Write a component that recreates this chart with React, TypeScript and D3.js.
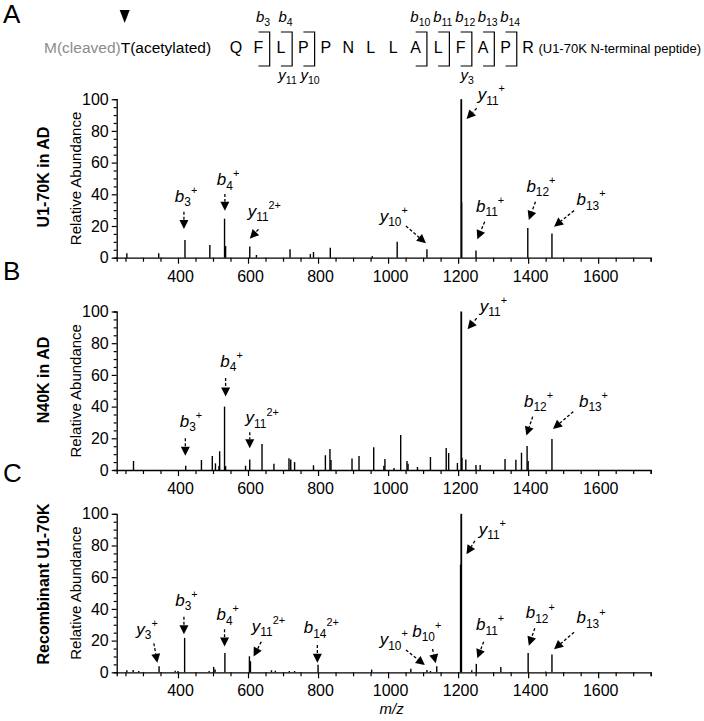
import * as d3 from "d3";
import React from "react";

const FONT = "'Liberation Sans', Arial, Helvetica, sans-serif";

// m/z axis + abundance axis
const mzDomain: [number, number] = [225, 1750];
const mzTicks = d3.range(250, 1751, 50);
const mzLabels = [400, 600, 800, 1000, 1200, 1400, 1600];
const abundanceTicks = d3.range(0, 101, 5);
const abundanceLabels = [0, 20, 40, 60, 80, 100];

// peptide header
const residues = ["Q", "F", "L", "P", "P", "N", "L", "L", "A", "L", "F", "A", "P", "R"];
// cut = position between two residues; each cut gets a "]" bracket
const bCuts: [number, string][] = [[1.5, "3"], [2.5, "4"], [8.5, "10"], [9.5, "11"], [10.5, "12"], [11.5, "13"], [12.5, "14"]];
const yCuts: [number, string][] = [[2.5, "11"], [3.5, "10"], [10.5, "3"]];
const cutsFirst = [1.5, 2.5, 3.5];
const cutsSecond = [8.5, 9.5, 10.5, 11.5, 12.5];

// peaks: [m/z, relative abundance]
const peaksAD: [number, number][] = [
  [254, 2.8], [345, 2.8], [420, 11.2], [491, 8], [533, 24.6], [536, 7.4], [605, 7], [624, 1.7],
  [720, 5.3], [778, 2.3], [787, 3.6], [835, 6.3], [955, 1], [1026, 10.1], [1111, 5.3],
  [1209, 100], [1210, 35], [1251, 4.6], [1399, 18.7], [1468, 15.2],
];

const peaksN40K: [number, number][] = [
  [273, 5.7], [422, 2.7], [467, 6.3], [498, 8.8], [507, 4.2], [517, 2.5], [519, 11.8], [533, 40],
  [536, 2.5], [593, 2.7], [605, 6.7], [640, 16.4], [674, 4], [717, 7.4], [722, 6.7], [733, 5],
  [787, 3], [821, 9.3], [834, 13.3], [837, 6.3], [897, 7.2], [917, 8.8], [959, 14.3], [988, 2.7],
  [991, 7], [1017, 1.3], [1036, 22.1], [1054, 5.7], [1057, 4], [1084, 1.9], [1121, 8.2],
  [1166, 13.9], [1173, 10.7], [1198, 4.4], [1209, 100], [1211, 7.8], [1222, 6.7], [1251, 3.2],
  [1263, 3.2], [1334, 7], [1365, 6.5], [1381, 10.9], [1397, 15.2], [1400, 5.7], [1468, 19.6],
];

const peaksRecombinant: [number, number][] = [
  [254, 1.3], [272, 1.5], [288, 0.8], [346, 3.8], [392, 1], [400, 0.8], [419, 21.7], [489, 0.8],
  [502, 3.4], [506, 1.7], [534, 12.2], [604, 10.1], [607, 7], [667, 1.3], [678, 1], [718, 0.8],
  [733, 0.8], [800, 4.8], [953, 1.7], [1065, 2.3], [1111, 1.5], [1121, 0.8], [1139, 3.8],
  [1207, 68], [1209, 100], [1239, 1.3], [1252, 5.3], [1322, 3.4], [1400, 12.2], [1450, 0.5],
  [1468, 11.2],
];

type Note = { ion: string; sub: string; sup: string; at: [number, number]; from: [number, number]; to: [number, number] };

const notesAD: Note[] = [
  { ion: "b", sub: "3", sup: "+", at: [391, 35.3], from: [417, 29], to: [417, 18.1] },
  { ion: "b", sub: "4", sup: "+", at: [511, 45.9], from: [534, 40.2], to: [534, 29.7] },
  { ion: "y", sub: "11", sup: "2+", at: [599, 25.9], from: [630, 17.9], to: [605, 12] },
  { ion: "y", sub: "10", sup: "+", at: [976, 22.7], from: [1051, 20], to: [1108, 9.1] },
  { ion: "y", sub: "11", sup: "+", at: [1256, 99.5], from: [1253, 94.3], to: [1224, 87.5] },
  { ion: "b", sub: "11", sup: "+", at: [1251, 29], from: [1276, 22.7], to: [1255, 11.6] },
  { ion: "b", sub: "12", sup: "+", at: [1395, 41.6], from: [1421, 35.3], to: [1402, 23.8] },
  { ion: "b", sub: "13", sup: "+", at: [1538, 33.2], from: [1531, 29.7], to: [1474, 19.6] },
];

const notesN40K: Note[] = [
  { ion: "b", sub: "3", sup: "+", at: [405, 27.4], from: [421, 20], to: [421, 9] },
  { ion: "b", sub: "4", sup: "+", at: [521, 65.2], from: [536, 58], to: [536, 46.3] },
  { ion: "y", sub: "11", sup: "2+", at: [593, 29.5], from: [605, 23.8], to: [605, 13.7] },
  { ion: "y", sub: "11", sup: "+", at: [1262, 100], from: [1253, 95.8], to: [1227, 88.8] },
  { ion: "b", sub: "12", sup: "+", at: [1388, 40], from: [1413, 33.7], to: [1395, 21.7] },
  { ion: "b", sub: "13", sup: "+", at: [1545, 40], from: [1529, 36.8], to: [1471, 25.9] },
];

const notesRecombinant: Note[] = [
  { ion: "y", sub: "3", sup: "+", at: [281, 23.6], from: [331, 18.3], to: [341, 6] },
  { ion: "b", sub: "3", sup: "+", at: [392, 41.9], from: [417, 35], to: [417, 24] },
  { ion: "b", sub: "4", sup: "+", at: [510, 33], from: [533, 27.2], to: [533, 16.2] },
  { ion: "y", sub: "11", sup: "2+", at: [611, 25.6], from: [638, 19.3], to: [616, 9.9] },
  { ion: "b", sub: "14", sup: "2+", at: [759, 24.6], from: [798, 17.2], to: [798, 6.1] },
  { ion: "y", sub: "10", sup: "+", at: [976, 17.2], from: [1051, 14.1], to: [1105, 4.6] },
  { ion: "b", sub: "10", sup: "+", at: [1069, 22.5], from: [1127, 14.7], to: [1136, 5.7] },
  { ion: "y", sub: "11", sup: "+", at: [1259, 86.7], from: [1248, 83], to: [1224, 74.5] },
  { ion: "b", sub: "11", sup: "+", at: [1251, 26.7], from: [1273, 19.3], to: [1255, 8.8] },
  { ion: "b", sub: "12", sup: "+", at: [1393, 34.1], from: [1419, 27.8], to: [1402, 16.8] },
  { ion: "b", sub: "13", sup: "+", at: [1538, 31], from: [1531, 25.3], to: [1474, 14.5] },
];

const panels = [
  { letter: "", name: "U1-70K in AD", peaks: peaksAD, notes: notesAD, bottom: 257.7, nameY: 177 },
  { letter: "B", name: "N40K in AD", peaks: peaksN40K, notes: notesN40K, bottom: 470, nameY: 380 },
  { letter: "C", name: "Recombinant U1-70K", peaks: peaksRecombinant, notes: notesRecombinant, bottom: 672.3, nameY: 584 },
];

const W = 704;
const H = 721;
const plotLeft = 116.7;
const plotRight = 650.7;
const plotH = 158.5;

function ionLabel(sel: d3.Selection<SVGTextElement, unknown, null, undefined>, ion: string, sub: string, sup: string, size: number) {
  sel.append("tspan").attr("font-style", "italic").text(ion);
  if (sub) sel.append("tspan").attr("font-size", size * 0.7).attr("dy", size * 0.27).text(sub);
  if (sup) sel.append("tspan").attr("font-size", size * 0.64).attr("dy", -size * 0.72).text(sup);
}

function arrow(g: d3.Selection<SVGGElement, unknown, null, undefined>, x0: number, y0: number, x1: number, y1: number) {
  const dx = x1 - x0;
  const dy = y1 - y0;
  const len = Math.hypot(dx, dy) || 1;
  const ux = dx / len;
  const uy = dy / len;
  const head = 9;
  const half = 4.5;
  const bx = x1 - ux * head;
  const by = y1 - uy * head;
  g.append("line")
    .attr("x1", x0).attr("y1", y0).attr("x2", bx).attr("y2", by)
    .attr("stroke", "#000").attr("stroke-width", 1.3).attr("stroke-dasharray", "3,2");
  g.append("polygon")
    .attr("points", [[x1, y1], [bx - uy * half, by + ux * half], [bx + uy * half, by - ux * half]].map((p) => p.join(",")).join(" "))
    .attr("fill", "#000");
}

export default function App() {
  const svgRef = React.useRef<SVGSVGElement>(null);

  React.useEffect(() => {
    if (!svgRef.current) return;
    const svg = d3.select(svgRef.current);
    svg.selectAll("*").remove();
    svg.append("rect").attr("width", W).attr("height", H).attr("fill", "#fff");

    // ---- header: panel A peptide with fragment brackets
    const head = svg.append("g").attr("font-family", FONT);
    head.append("text").attr("x", 3).attr("y", 23).attr("font-size", 26).text("A");

    const left = head.append("text").attr("x", 44).attr("y", 53).attr("font-size", 15.5);
    left.append("tspan").attr("fill", "#8c8c8c").text("M(cleaved)");
    left.append("tspan").attr("fill", "#000").text("T(acetylated)");

    const rx = d3.scaleLinear().domain([0, residues.length - 1]).range([236, 528]);
    const step = rx(1) - rx(0);
    head.selectAll("text.res")
      .data(residues)
      .enter()
      .append("text")
      .attr("class", "res")
      .attr("x", (_d, i) => rx(i))
      .attr("y", 53)
      .attr("font-size", 16)
      .attr("text-anchor", "middle")
      .text((d) => d);

    head.append("text").attr("x", 701).attr("y", 53).attr("font-size", 13).attr("text-anchor", "end")
      .text("(U1-70K N-terminal peptide)");

    // cleavage arrowhead over T
    const tx = 44 + (left.select("tspan").node() as SVGTSpanElement).getComputedTextLength() + 4;
    head.append("polygon").attr("points", `${tx - 5},10 ${tx + 5},10 ${tx},23`).attr("fill", "#000");

    const topY = 32;
    const botY = 66;
    const hook = step / 2;
    [...cutsFirst, ...cutsSecond].forEach((c) => {
      head.append("path")
        .attr("d", `M${rx(c) - hook},${topY}H${rx(c)}V${botY}H${rx(c) - hook}`)
        .attr("fill", "none").attr("stroke", "#000").attr("stroke-width", 1.2);
    });
    bCuts.forEach(([c, n]) => {
      const t = head.append("text").attr("x", rx(c) - hook / 2 - 1).attr("y", 22).attr("font-size", 15).attr("text-anchor", "middle");
      ionLabel(t, "b", n, "", 15);
    });
    yCuts.forEach(([c, n]) => {
      const t = head.append("text").attr("x", rx(c) - hook / 2 + 1).attr("y", 80).attr("font-size", 15).attr("text-anchor", "middle");
      ionLabel(t, "y", n, "", 15);
    });

    // ---- spectra
    const x = d3.scaleLinear().domain(mzDomain).range([plotLeft, plotRight]);

    panels.forEach((p) => {
      const y = d3.scaleLinear().domain([0, 100]).range([p.bottom, p.bottom - plotH]);
      const g = svg.append("g").attr("font-family", FONT);

      if (p.letter) g.append("text").attr("x", 3).attr("y", p.bottom - 190).attr("font-size", 26).text(p.letter);

      g.selectAll("line.peak")
        .data(p.peaks)
        .enter()
        .append("line")
        .attr("class", "peak")
        .attr("x1", (d) => x(d[0]))
        .attr("x2", (d) => x(d[0]))
        .attr("y1", y(0))
        .attr("y2", (d) => y(d[1]))
        .attr("stroke", "#000")
        .attr("stroke-width", (d) => (d[1] >= 100 ? 1.8 : 1.4));

      const xAxis = g.append("g").attr("transform", `translate(0,${y(0)})`)
        .call(d3.axisBottom(x).tickValues(mzTicks).tickSizeOuter(0).tickSize(4)
          .tickFormat((d) => (mzLabels.includes(d as number) ? String(d) : "")) as any);
      xAxis.selectAll(".tick line").attr("y2", (d: any) => (mzLabels.includes(d) ? 6 : 4));
      xAxis.selectAll(".tick text").attr("y", 24).attr("dy", null).attr("dx", 2).attr("font-size", 16).attr("font-family", FONT);

      const yAxis = g.append("g").attr("transform", `translate(${plotLeft},0)`)
        .call(d3.axisLeft(y).tickValues(abundanceTicks).tickSizeOuter(0).tickSize(3)
          .tickFormat((d) => (abundanceLabels.includes(d as number) ? String(d) : "")) as any);
      yAxis.selectAll(".tick line").attr("x2", (d: any) => (abundanceLabels.includes(d) ? -5 : -3));
      yAxis.selectAll(".tick text").attr("x", -8).attr("font-size", 16).attr("font-family", FONT);

      [xAxis, yAxis].forEach((a) => {
        a.select(".domain").attr("stroke-width", 1.3);
        a.selectAll(".tick line").attr("stroke-width", 1.2);
      });

      const mid = (y(0) + y(100)) / 2;
      g.append("text")
        .attr("transform", `translate(75,${mid}) rotate(-90)`)
        .attr("text-anchor", "middle").attr("dominant-baseline", "central")
        .attr("font-size", 15).text("Relative Abundance");
      g.append("text")
        .attr("transform", `translate(43,${p.nameY}) rotate(-90)`)
        .attr("text-anchor", "middle").attr("dominant-baseline", "central")
        .attr("font-size", 16).attr("font-weight", "bold").text(p.name);

      p.notes.forEach((n) => {
        const t = g.append("text").attr("x", x(n.at[0])).attr("y", y(n.at[1])).attr("font-size", 17);
        ionLabel(t, n.ion, n.sub, n.sup, 17);
        arrow(g, x(n.from[0]), y(n.from[1]), x(n.to[0]), y(n.to[1]));
      });
    });

    svg.append("text").attr("x", x(1010)).attr("y", 714).attr("text-anchor", "middle")
      .attr("font-family", FONT).attr("font-size", 15).attr("font-style", "italic").text("m/z");
  }, []);

  return (
    <div style={{ position: "absolute", left: 0, top: 0 }}>
      <svg ref={svgRef} width={W} height={H} style={{ display: "block" }} />
    </div>
  );
}
